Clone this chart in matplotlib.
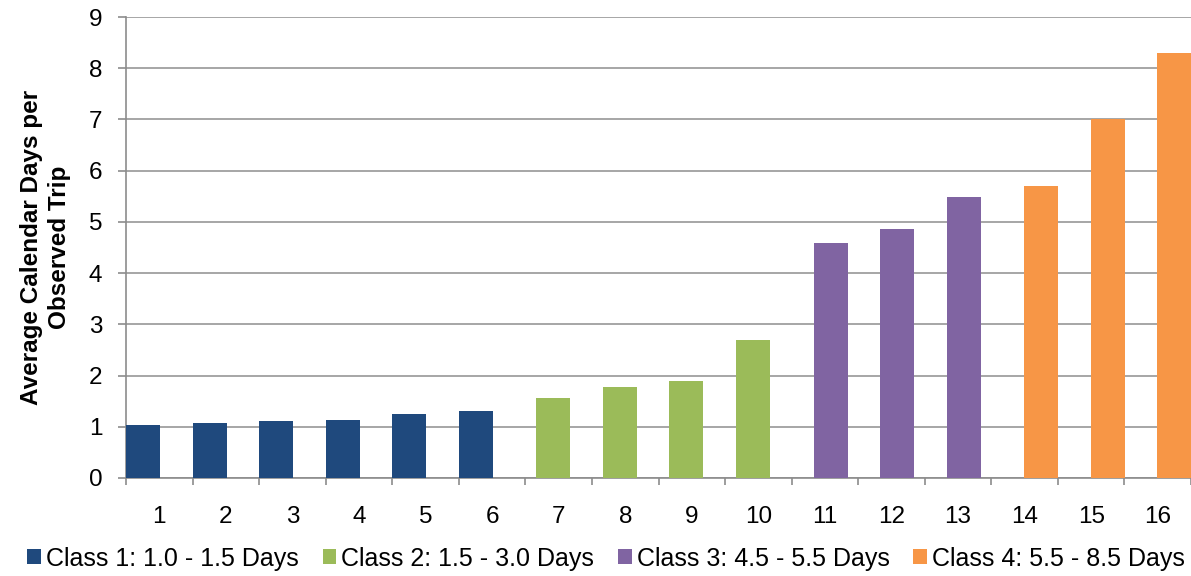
import matplotlib.pyplot as plt
import numpy as np

plt.rcParams['font.family'] = ['Liberation Sans', 'DejaVu Sans']

# one bar per trip, coloured by its duration class
trip = list(range(1, 17))
avg_days = [1.04, 1.08, 1.11, 1.14, 1.24, 1.30, 1.56, 1.77, 1.90, 2.69,
            4.58, 4.87, 5.48, 5.71, 7.00, 8.29]
trip_class = [0, 0, 0, 0, 0, 0, 1, 1, 1, 1, 2, 2, 2, 3, 3, 3]
class_names = ['Class 1: 1.0 - 1.5 Days', 'Class 2: 1.5 - 3.0 Days',
               'Class 3: 4.5 - 5.5 Days', 'Class 4: 5.5 - 8.5 Days']
class_colors = ['#1F497D', '#9BBB59', '#8064A2', '#F79646']

# excel style clustered series: each class sits at its own offset in the category
offsets = [-0.245, -0.08, 0.085, 0.25]
bar_w = 0.51

fig = plt.figure(figsize=(11.91, 5.76), dpi=100)
ax = fig.add_axes([126 / 1191, 1 - 478 / 576, 1 - 126 / 1191, (478 - 17) / 576])

x = np.array(trip, dtype=float)
for k, name in enumerate(class_names):
    sel = [i for i, c in enumerate(trip_class) if c == k]
    ax.bar(x[sel] + offsets[k], [avg_days[i] for i in sel], width=bar_w,
           color=class_colors[k], label=name, zorder=3)

ax.set_xlim(0.5, 16.5)
ax.set_ylim(0, 9)
ax.set_yticks(range(0, 10))
ax.yaxis.grid(True, color='#a6a6a6', linewidth=1.4, zorder=0)

# labels at the middle of each category, tick marks on the boundaries
ax.set_xticks(trip)
ax.set_xticklabels([str(t) for t in trip])
ax.set_xticks(np.arange(0.5, 17, 1), minor=True)
ax.tick_params(axis='x', which='major', length=0, pad=20, labelsize=17.5)
ax.tick_params(axis='x', which='minor', length=5, color='#8c8c8c', width=1.2)
ax.tick_params(axis='y', length=6, color='#8c8c8c', width=1.2, pad=11, labelsize=17.5)

for side in ['top', 'right']:
    ax.spines[side].set_visible(False)
for side in ['left', 'bottom']:
    ax.spines[side].set_color('#8c8c8c')
    ax.spines[side].set_linewidth(1.2)

ax.set_ylabel('Average Calendar Days per\nObserved Trip', fontsize=17.5,
              fontweight='bold', labelpad=13, linespacing=1.25)

fig.legend(loc='lower center', bbox_to_anchor=(0.509, -0.03), ncol=4,
           frameon=False, fontsize=18, handlelength=0.55, handleheight=0.55,
           handletextpad=0.2, columnspacing=0.95)

fig.savefig('out.png', dpi=100)
